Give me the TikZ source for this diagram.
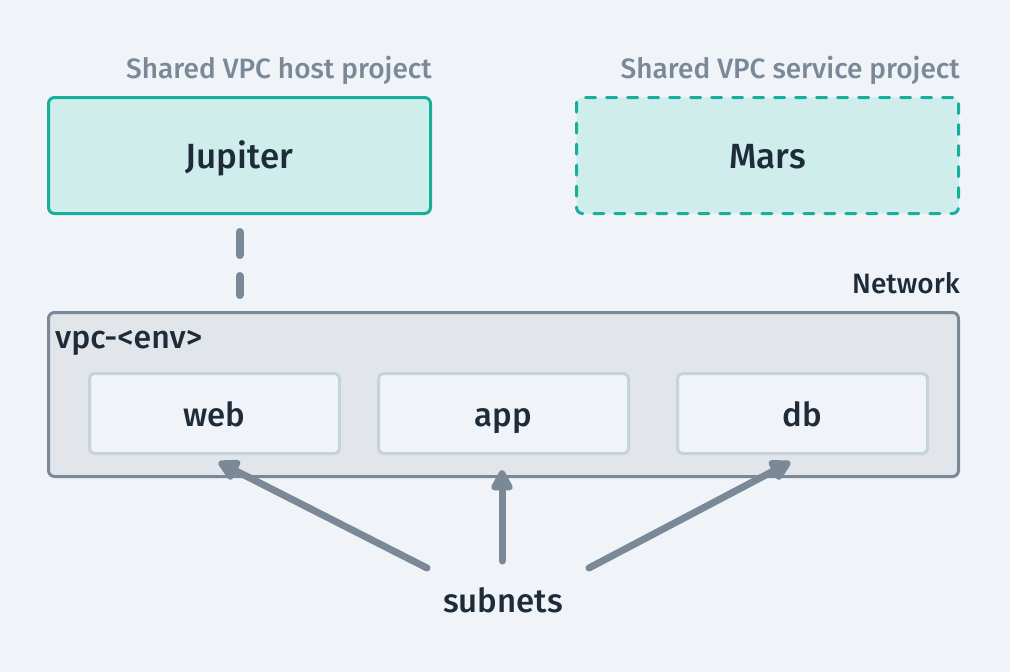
\documentclass[tikz,border=0pt]{standalone}
\usepackage{fontspec}
\setmainfont{Fira Sans Medium}
\usetikzlibrary{arrows.meta}
\definecolor{bg}{HTML}{F0F4F8}
\definecolor{teal}{HTML}{18AE9C}
\definecolor{teallight}{HTML}{CFEDEB}
\definecolor{slate}{HTML}{7A8898}
\definecolor{vpcfill}{HTML}{E2E6EA}
\definecolor{subline}{HTML}{C5D3DD}
\definecolor{ink}{HTML}{1E2B38}
\begin{document}
\begin{tikzpicture}[x=1pt,y=-1pt,
  project/.style={draw=teal,fill=teallight,line width=3pt,rounded corners=6pt,
    minimum width=382pt,minimum height=116pt,inner sep=0pt,
    text height=29pt,text depth=4pt,
    font=\fontsize{35}{35}\selectfont,text=ink},
  title/.style={font=\fontsize{28}{28}\selectfont,text=slate,inner sep=0pt},
  subnet/.style={draw=subline,fill=bg,line width=3pt,rounded corners=5pt,
    minimum width=250pt,minimum height=80pt,inner sep=0pt,
    text height=29pt,text depth=4pt,
    font=\fontsize{33}{33}\selectfont,text=ink},
  lbl/.style={font=\fontsize{28}{28}\selectfont,text=ink,inner sep=0pt},
  arr/.style={draw=slate,line width=7pt,line cap=round,
    -{Triangle[length=24pt,width=24pt,round]}}
]
\fill[bg] (0,0) rectangle (1010,672);
\useasboundingbox (0,0) rectangle (1010,672);

\node[project] (jup) at (239.5,155.5) {Jupiter};
\node[project,dash pattern=on 10pt off 11pt,line cap=round] (mars) at (767.5,155.5) {Mars};
\node[title,anchor=base east] (ht) at (432,78) {Shared VPC host project};
\node[title,anchor=base east] (st) at (960,78) {Shared VPC service project};

\node[draw=slate,fill=vpcfill,line width=3pt,rounded corners=6pt,
  minimum width=910pt,minimum height=164pt,inner sep=0pt] (vpc) at (503.5,394.5) {};
\node[lbl,anchor=base east] (net) at (960,293) {Network};
\node[lbl,font=\fontsize{32}{32}\selectfont,anchor=base west] (vpcl) at (55,348) {vpc-<env>};

\node[subnet] (web) at (214.5,413.5) {web};
\node[subnet] (app) at (503.5,413.5) {app};
\node[subnet] (db) at (802.5,413.5) {db};

\node[lbl,font=\fontsize{33}{33}\selectfont,anchor=base] (sub) at (503,612) {subnets};

\draw[draw=slate,line width=8pt,line cap=round,dash pattern=on 23pt off 21pt]
  ([yshift=-17pt]jup.south) -- ([yshift=16pt]jup.south |- vpc.north);

\coordinate (t1) at (427,568);
\coordinate (t2) at (502,561);
\coordinate (t3) at (589,568);
\draw[arr] (t1) -- ([xshift=4pt,yshift=-7pt]web.south);
\draw[arr] (t2) -- ([xshift=-1.5pt,yshift=-15pt]app.south);
\draw[arr] (t3) -- ([xshift=-12pt,yshift=-7pt]db.south);
\end{tikzpicture}
\end{document}
